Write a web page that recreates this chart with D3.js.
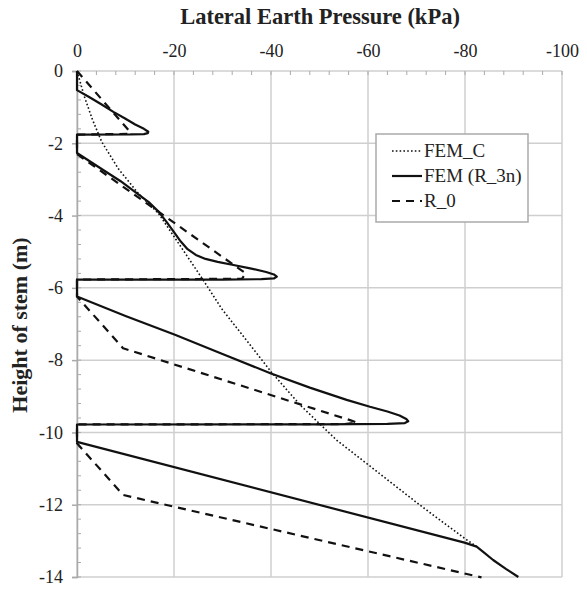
<!DOCTYPE html>
<html>
<head>
<meta charset="utf-8">
<script src="https://cdn.jsdelivr.net/npm/d3@7"></script>
<style>
  body { margin: 0; background: #fff; }
  text { font-family: "Liberation Serif" !important; }
</style>
</head>
<body>
<script>
// pressure (kPa), height (m) pairs
const femC = [[0,0],[-1.5,-0.7],[-3.2,-1.35],[-5.1,-1.96],[-8.5,-2.7],[-12.6,-3.38],[-16.8,-3.94],
  [-26,-5.78],[-29.8,-6.57],[-40,-8.32],[-46,-9.24],[-53.5,-10.21],[-60.1,-10.9],[-70.7,-12.01],
  [-79.9,-12.93],[-82.4,-13.16]];

const femR3n = [[0,0],[0,-0.53],[-2.5,-0.72],[-5,-0.92],[-7.5,-1.13],[-10,-1.32],[-12,-1.48],[-13.8,-1.6],
  [-14.7,-1.68],[-14.6,-1.72],[-13.8,-1.745],[-11,-1.755],[0,-1.76],
  [0,-2.27],[-5.4,-2.74],[-9,-3.05],[-12.3,-3.38],[-15,-3.65],[-16.8,-3.89],[-18.5,-4.18],[-20,-4.46],
  [-21.4,-4.72],[-22.8,-4.93],[-24.5,-5.09],[-26.5,-5.2],[-29,-5.28],[-32,-5.36],[-35.7,-5.46],
  [-39,-5.56],[-40.6,-5.63],[-41.2,-5.69],[-40.6,-5.74],[-38,-5.76],[-30,-5.77],[0,-5.77],
  [0,-6.24],[-10,-6.78],[-20.2,-7.3],[-30,-7.83],[-40,-8.37],[-48,-8.76],[-55.6,-9.1],[-60.4,-9.29],
  [-64,-9.42],[-66.5,-9.53],[-67.9,-9.63],[-68.3,-9.69],[-67.6,-9.74],[-64,-9.765],[-50,-9.775],[0,-9.78],
  [0,-10.26],[-79.9,-13.05],[-82.4,-13.16],[-84,-13.33],[-85.8,-13.53],[-88.5,-13.78],[-91,-14]];

const r0 = [[0,0],[-10.9,-1.68],[-10.5,-1.74],[0,-1.76],
  [0,-2.3],[-34.8,-5.6],[-34,-5.75],[0,-5.77],
  [0,-6.24],[-9.5,-7.67],[-56.3,-9.66],[-57.7,-9.73],[-55,-9.77],[0,-9.78],
  [0,-10.3],[-9.5,-11.73],[-83.4,-14.01]];

const xTicks = [0,-20,-40,-60,-80,-100];
const yTicks = [0,-2,-4,-6,-8,-10,-12,-14];

const series = [
  {name: 'FEM_C', data: femC, width: 1.6, dash: '1.6,2.2'},
  {name: 'FEM (R_3n)', data: femR3n, width: 2.2, dash: null},
  {name: 'R_0', data: r0, width: 2.2, dash: '8,6'}
];

const FONT = '"Liberation Serif"';
const W = 587, H = 589;
const svg = d3.select('body').append('svg')
  .attr('width', W).attr('height', H);
svg.append('rect').attr('width', W).attr('height', H).attr('fill', '#fff');

const x = d3.scaleLinear().domain([0, -100]).range([77, 562]);
const y = d3.scaleLinear().domain([0, -14]).range([71, 577]);

const gridColor = '#cfcfcf';

// grid lines
svg.append('g').selectAll('line').data(xTicks).join('line')
  .attr('x1', d => x(d)).attr('x2', d => x(d))
  .attr('y1', y(0)).attr('y2', y(-14))
  .attr('stroke', gridColor).attr('stroke-width', 1.5);
svg.append('g').selectAll('line').data(yTicks).join('line')
  .attr('x1', x(0)).attr('x2', x(-100))
  .attr('y1', d => y(d)).attr('y2', d => y(d))
  .attr('stroke', gridColor).attr('stroke-width', 1.5);

// minor ticks (inward)
svg.append('g').selectAll('line').data(d3.range(0, -100.1, -4)).join('line')
  .attr('x1', d => x(d)).attr('x2', d => x(d))
  .attr('y1', y(0)).attr('y2', y(0) + 4)
  .attr('stroke', '#aaa').attr('stroke-width', 1);
svg.append('g').selectAll('line').data(d3.range(0, -14.01, -0.4)).join('line')
  .attr('x1', x(0)).attr('x2', x(0) + 4)
  .attr('y1', d => y(d)).attr('y2', d => y(d))
  .attr('stroke', '#aaa').attr('stroke-width', 1);

// axes (plain hyphen minus, like the original)
const fmt = d => String(d);
const xAxis = svg.append('g')
  .attr('transform', `translate(0,${y(0)})`)
  .call(d3.axisTop(x).tickValues(xTicks).tickSize(0).tickPadding(14).tickFormat(fmt));
xAxis.select('.domain').remove();
xAxis.attr('font-family', null).attr('font-size', null);
xAxis.selectAll('text')
  .style('font-family', FONT).style('font-size', '18px').attr('fill', '#222');

const yAxis = svg.append('g')
  .attr('transform', `translate(${x(0)},0)`)
  .call(d3.axisLeft(y).tickValues(yTicks).tickSize(5).tickPadding(9).tickFormat(fmt));
yAxis.attr('font-family', null).attr('font-size', null);
yAxis.select('.domain').attr('stroke', '#aaa').attr('stroke-width', 1.5);
yAxis.selectAll('.tick line').attr('stroke', '#aaa').attr('stroke-width', 1.5);
yAxis.selectAll('text')
  .style('font-family', FONT).style('font-size', '18px').attr('fill', '#222');

// titles
svg.append('text')
  .attr('x', 320).attr('y', 24)
  .attr('text-anchor', 'middle')
  .style('font-family', FONT)
  .style('font-size', '22.5px').style('font-weight', 'bold').attr('fill', '#222')
  .text('Lateral Earth Pressure (kPa)');
svg.append('text')
  .attr('transform', `translate(27,${(y(0) + y(-14)) / 2 + 1}) rotate(-90)`)
  .attr('text-anchor', 'middle')
  .style('font-family', FONT)
  .style('font-size', '22px').style('font-weight', 'bold').attr('fill', '#222')
  .text('Height of stem (m)');

// series lines
const line = d3.line().x(d => x(d[0])).y(d => y(d[1]));
svg.append('g').selectAll('path').data(series).join('path')
  .attr('d', d => line(d.data))
  .attr('fill', 'none')
  .attr('stroke', '#111')
  .attr('stroke-width', d => d.width)
  .attr('stroke-dasharray', d => d.dash)
  .attr('stroke-linejoin', 'round');

// legend
const legend = svg.append('g');
legend.append('rect')
  .attr('x', 376).attr('y', 134).attr('width', 152).attr('height', 88)
  .attr('fill', '#fff').attr('stroke', '#aaa').attr('stroke-width', 1.5);
const items = legend.selectAll('g').data(series).join('g')
  .attr('transform', (d, i) => `translate(0,${151 + i * 25})`);
items.append('line')
  .attr('x1', 392).attr('x2', 422)
  .attr('stroke', '#111')
  .attr('stroke-width', d => d.width)
  .attr('stroke-dasharray', d => d.dash);
items.append('text')
  .attr('x', 424).attr('y', 6)
  .style('font-family', FONT)
  .style('font-size', '19px').attr('fill', '#222')
  .text(d => d.name);
</script>
</body>
</html>
